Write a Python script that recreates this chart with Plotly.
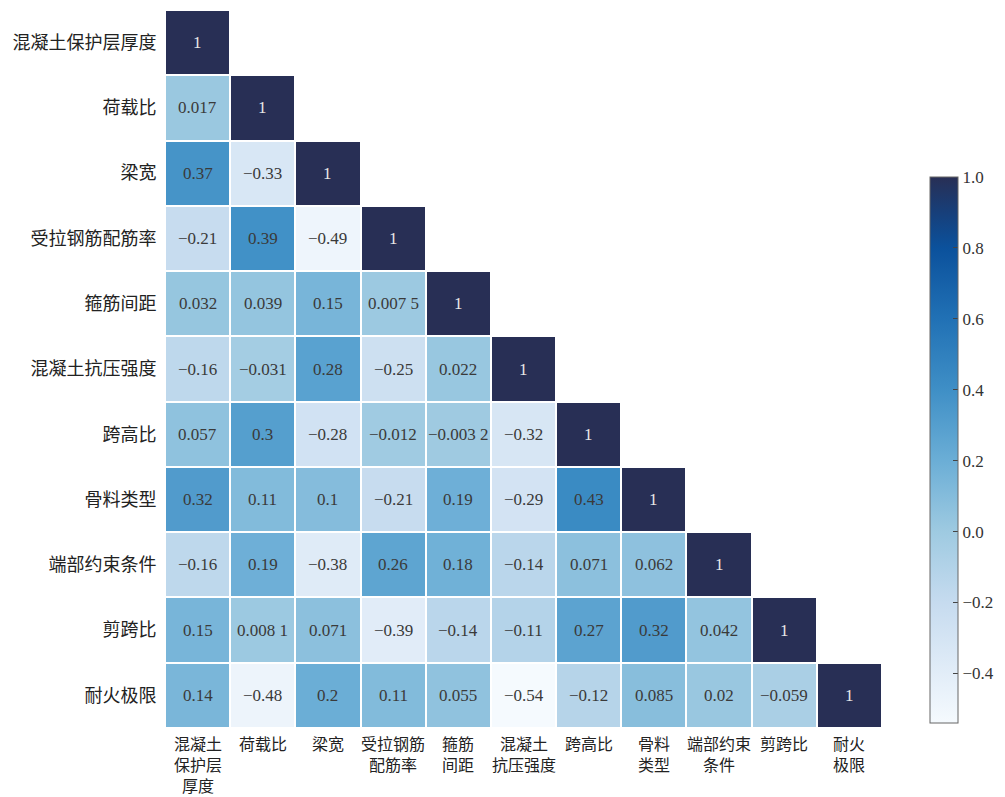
import plotly.graph_objects as go

labels = ["混凝土保护层厚度", "荷载比", "梁宽", "受拉钢筋配筋率", "箍筋间距",
          "混凝土抗压强度", "跨高比", "骨料类型", "端部约束条件", "剪跨比", "耐火极限"]
x_label_lines = [["混凝土", "保护层", "厚度"], ["荷载比"], ["梁宽"], ["受拉钢筋", "配筋率"],
                 ["箍筋", "间距"], ["混凝土", "抗压强度"], ["跨高比"], ["骨料", "类型"],
                 ["端部约束", "条件"], ["剪跨比"], ["耐火", "极限"]]

row_0 = [1]
row_1 = [0.017, 1]
row_2 = [0.37, -0.33, 1]
row_3 = [-0.21, 0.39, -0.49, 1]
row_4 = [0.032, 0.039, 0.15, 0.0075, 1]
row_5 = [-0.16, -0.031, 0.28, -0.25, 0.022, 1]
row_6 = [0.057, 0.3, -0.28, -0.012, -0.0032, -0.32, 1]
row_7 = [0.32, 0.11, 0.1, -0.21, 0.19, -0.29, 0.43, 1]
row_8 = [-0.16, 0.19, -0.38, 0.26, 0.18, -0.14, 0.071, 0.062, 1]
row_9 = [0.15, 0.0081, 0.071, -0.39, -0.14, -0.11, 0.27, 0.32, 0.042, 1]
row_10 = [0.14, -0.48, 0.2, 0.11, 0.055, -0.54, -0.12, 0.085, 0.02, -0.059, 1]
rows = [row_0, row_1, row_2, row_3, row_4, row_5, row_6, row_7, row_8, row_9, row_10]

cbar_ticks = [-0.4, -0.2, 0.0, 0.2, 0.4, 0.6, 0.8, 1.0]

n = len(labels)
z = [[(r[j] if j < len(r) else None) for j in range(n)] for r in rows]

zmin, zmax = -0.54, 1.0
stops = [(-0.54, "#f5fafe"), (-0.4, "#e2edf8"), (-0.2, "#c6dbef"), (0.0, "#9ecae1"),
         (0.2, "#6baed6"), (0.4, "#3f8fc6"), (0.6, "#2171b5"), (0.8, "#0b519c"),
         (0.9, "#173f7a"), (1.0, "#282f55")]
colorscale = [[(v - zmin) / (zmax - zmin), c] for v, c in stops]


def fmt(v):
    if v == 1:
        return "1"
    s = f"{v:.2g}"
    if "." in s:
        ip, dp = s.split(".")
        if len(dp) > 3:
            dp = dp[:3] + " " + dp[3:]
        s = ip + "." + dp
    return s.replace("-", "−")


fig = go.Figure()
fig.add_trace(go.Heatmap(
    z=z, x=labels, y=labels, zmin=zmin, zmax=zmax, colorscale=colorscale,
    xgap=2, ygap=2, hoverongaps=False,
    colorbar=dict(
        thickness=28, lenmode="pixels", len=566, x=(920 - 165) / 717, xanchor="left",
        y=(728 - 450) / 718, yanchor="middle", outlinecolor="#666", outlinewidth=1,
        ticks="inside", ticklen=5, tickcolor="#444", tickvals=cbar_ticks,
        ticktext=[f"{t:.1f}".replace("-", "−") for t in cbar_ticks],
        tickfont=dict(family="Liberation Serif", size=17, color="#333"),
    ),
))

for i, r in enumerate(rows):
    for j, v in enumerate(r):
        fig.add_annotation(
            x=labels[j], y=labels[i], text=fmt(v), showarrow=False,
            font=dict(family="Liberation Serif", size=17,
                      color="#e8e8e8" if v == 1 else "#3a3a3a"),
        )

line_offsets = [15, 36, 57]
for j, lines in enumerate(x_label_lines):
    for k, line in enumerate(lines):
        fig.add_annotation(
            x=labels[j], xref="x", y=0, yref="paper", yanchor="middle",
            yshift=-line_offsets[k], text=line, showarrow=False, borderpad=0,
            font=dict(family="Noto Sans CJK SC", size=16, color="#222"),
        )

fig.update_xaxes(showticklabels=False, showgrid=False, zeroline=False, automargin=False)
fig.update_yaxes(
    autorange="reversed", showgrid=False, zeroline=False,
    ticks="outside", ticklen=4, tickcolor="white", automargin=False,
    tickfont=dict(family="Noto Sans CJK SC", size=18, color="#222"),
)
fig.update_layout(
    width=1005, height=797,
    margin=dict(l=165, r=123, t=10, b=69, autoexpand=False),
    plot_bgcolor="white", paper_bgcolor="white",
)
fig.write_html("out.html")
